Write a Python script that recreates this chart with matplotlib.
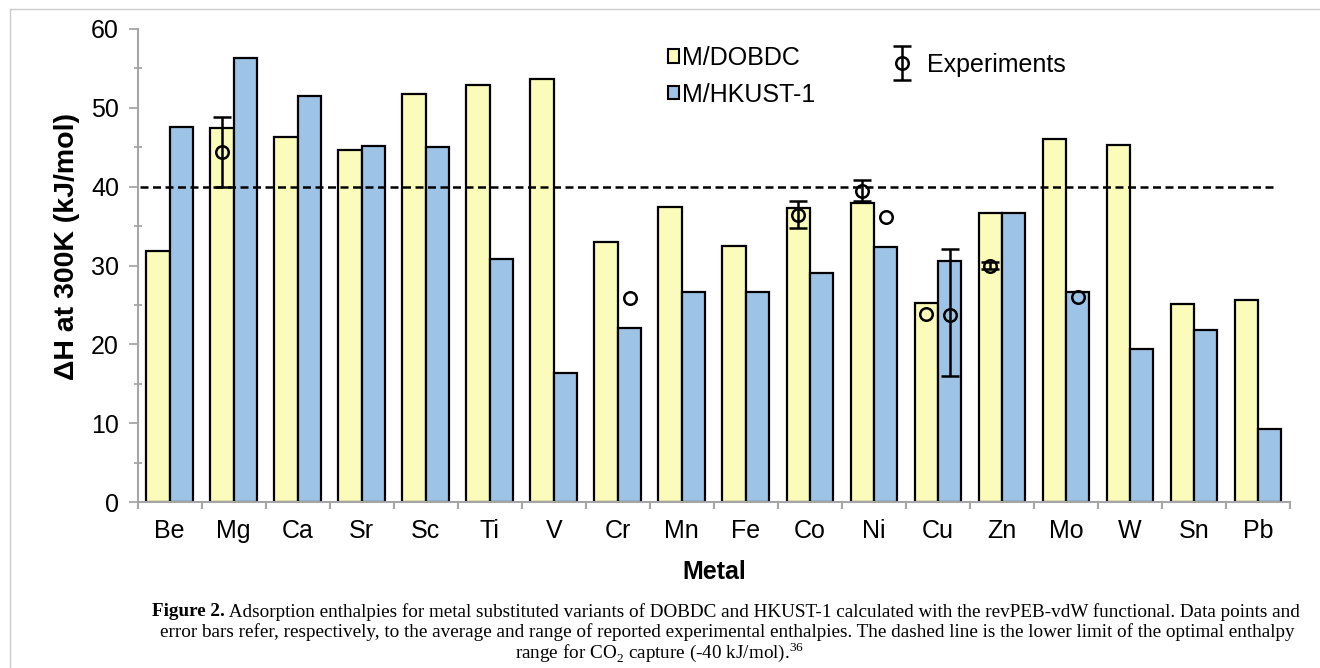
import numpy as np
import matplotlib.pyplot as plt
from matplotlib.patches import Patch
from matplotlib.container import ErrorbarContainer
from matplotlib.legend_handler import HandlerErrorbar

plt.rcParams['font.family'] = 'Liberation Sans'
plt.rcParams['mathtext.fontset'] = 'custom'
plt.rcParams['mathtext.rm'] = 'Liberation Serif'

metals = ['Be', 'Mg', 'Ca', 'Sr', 'Sc', 'Ti', 'V', 'Cr', 'Mn',
          'Fe', 'Co', 'Ni', 'Cu', 'Zn', 'Mo', 'W', 'Sn', 'Pb']
dobdc = [31.9, 47.4, 46.3, 44.7, 51.8, 52.9, 53.6, 33.0, 37.4,
         32.5, 37.3, 37.9, 25.2, 36.7, 46.0, 45.3, 25.1, 25.6]
hkust = [47.6, 56.3, 51.5, 45.1, 45.0, 30.8, 16.4, 22.1, 26.6,
         26.7, 29.0, 32.4, 30.6, 36.6, 26.6, 19.4, 21.8, 9.3]

# reported experimental enthalpies: mean and range (nan = single value)
exp_metal = ['Mg', 'Co', 'Ni', 'Ni', 'Cr', 'Cu', 'Cu', 'Zn', 'Mo']
exp_frame = ['DOBDC', 'DOBDC', 'DOBDC', 'HKUST-1', 'HKUST-1',
             'DOBDC', 'HKUST-1', 'DOBDC', 'HKUST-1']
exp_mean = [44.4, 36.4, 39.5, 36.1, 25.9, 23.8, 23.7, 30.0, 26.0]
exp_low = [40.0, 34.8, 38.2, np.nan, np.nan, np.nan, 16.0, 29.5, np.nan]
exp_high = [48.8, 38.2, 40.9, np.nan, np.nan, np.nan, 32.1, 30.5, np.nan]

target = 40  # lower limit of optimal enthalpy range

yellow = '#FCFCBA'
blue = '#9DC3E6'
gray = '#A6A6A6'
w = 0.365
fs = 18

fig = plt.figure(figsize=(13.2, 6.68), dpi=100)
W, H = 1320, 668
ax = fig.add_axes([137.7 / W, 1 - 502 / H, (1290 - 137.7) / W, (502 - 29) / H])

x = np.arange(len(metals))
ax.bar(x - w / 2, dobdc, w, color=yellow, edgecolor='black', linewidth=1.6, zorder=2)
ax.bar(x + w / 2, hkust, w, color=blue, edgecolor='black', linewidth=1.6, zorder=2)

ax.plot([-0.47, 17.3], [target, target], color='black', lw=1.8,
        dashes=(3.2, 1.8), zorder=3)

# experimental points
ex = np.array([metals.index(m) + (-w / 2 if f == 'DOBDC' else w / 2)
               for m, f in zip(exp_metal, exp_frame)])
em = np.array(exp_mean)
lo = np.array(exp_low)
hi = np.array(exp_high)
has_rng = ~np.isnan(lo)
eb = ax.errorbar(ex[has_rng], em[has_rng],
                 yerr=[em[has_rng] - lo[has_rng], hi[has_rng] - em[has_rng]],
                 fmt='o', mfc='none', mec='black', mew=1.8, ms=9,
                 ecolor='black', elinewidth=1.8, capsize=6.5, capthick=1.8, zorder=4)
ax.plot(ex[~has_rng], em[~has_rng], 'o', mfc='none', mec='black', mew=1.8, ms=9, zorder=4)

ax.set_xlim(-0.5, 17.5)
ax.set_ylim(0, 60)

ax.set_xticks(np.arange(-0.5, 18, 1))
ax.set_xticklabels([])
ax.set_xticks(x, minor=True)
ax.set_xticklabels(metals, minor=True, fontsize=fs)
ax.tick_params(axis='x', which='major', direction='out', length=5, width=1.5, color=gray)
ax.tick_params(axis='x', which='minor', length=0, pad=12)

ax.set_yticks(np.arange(0, 61, 10))
ax.set_yticks(np.arange(5, 60, 10), minor=True)
ax.tick_params(axis='y', which='major', direction='out', length=6.5, width=1.3,
               color=gray, labelsize=fs, pad=7)
ax.tick_params(axis='y', which='minor', direction='inout', length=6, width=1.3, color=gray)

for side in ['top', 'right']:
    ax.spines[side].set_visible(False)
for side in ['left', 'bottom']:
    ax.spines[side].set_color(gray)
    ax.spines[side].set_linewidth(1.5)

ax.set_xlabel('Metal', fontsize=fs, fontweight='bold')
ax.xaxis.set_label_coords(0.5, -0.122)
ax.set_ylabel('ΔH at 300K (kJ/mol)', fontsize=20.5, fontweight='bold')
ax.yaxis.set_label_coords(-0.05, 0.54)

# legends
leg1 = ax.legend(handles=[Patch(facecolor=yellow, edgecolor='black', lw=1.5, label='M/DOBDC'),
                          Patch(facecolor=blue, edgecolor='black', lw=1.5, label='M/HKUST-1')],
                 loc='upper left', bbox_to_anchor=(668 / W, 1 - 46 / H),
                 bbox_transform=fig.transFigure, frameon=False, fontsize=fs,
                 handlelength=0.45, handleheight=0.45, handletextpad=0.12,
                 labelspacing=0.5, borderpad=0, borderaxespad=0)
ax.add_artist(leg1)
ax.legend([eb], ['Experiments'], loc='upper left', bbox_to_anchor=(890 / W, 1 - 53 / H),
          bbox_transform=fig.transFigure, frameon=False, fontsize=fs,
          handlelength=1.0, handletextpad=0.5, borderpad=0, borderaxespad=0,
          handler_map={ErrorbarContainer: HandlerErrorbar(yerr_size=0.68)})

# page frame
fig.add_artist(plt.Line2D([10 / W, 1], [1 - 9 / H, 1 - 9 / H], color='#CCCCCC', lw=1))
fig.add_artist(plt.Line2D([10 / W, 10 / W], [0, 1 - 9 / H], color='#CCCCCC', lw=1))

# caption
cap_lines = [
    ('Figure 2.', ' Adsorption enthalpies for metal substituted variants of DOBDC and HKUST-1 '
                  'calculated with the revPEB-vdW functional. Data points and', 726, 612),
    ('', 'error bars refer, respectively, to the average and range of reported experimental '
         'enthalpies. The dashed line is the lower limit of the optimal enthalpy', 727, 632),
    ('', 'range for CO$_2$ capture (-40 kJ/mol).$^{36}$', 660, 652),
]
cap_size = 13.8
renderer = fig.canvas.get_renderer()
for bold, rest, cx, cy in cap_lines:
    t_rest = fig.text(0, 1 - cy / H, rest, family='Liberation Serif', fontsize=cap_size,
                      va='center', ha='left')
    wr = t_rest.get_window_extent(renderer).width
    wb = 0
    if bold:
        t_bold = fig.text(0, 1 - cy / H, bold, family='Liberation Serif', fontsize=cap_size,
                          fontweight='bold', va='center', ha='left')
        wb = t_bold.get_window_extent(renderer).width
    x0 = cx - (wb + wr) / 2
    if bold:
        t_bold.set_x(x0 / W)
    t_rest.set_x((x0 + wb) / W)

fig.savefig('out.png', dpi=100)
